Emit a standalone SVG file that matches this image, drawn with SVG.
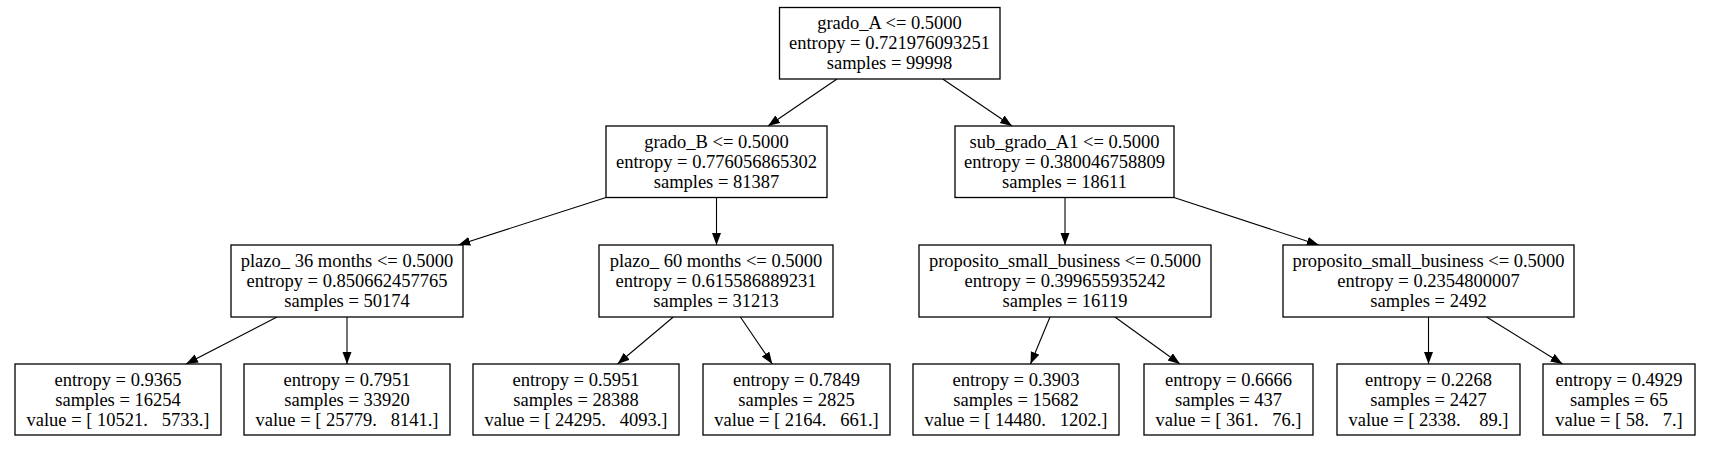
<svg xmlns="http://www.w3.org/2000/svg" width="1734" height="449" viewBox="0 0 1734 449">
<style>
.box{fill:#fff;stroke:#000;stroke-width:1.3}
text{font-family:"Liberation Serif","Times New Roman",serif;font-size:18.5px;fill:#000;text-anchor:middle;white-space:pre}
.edge{stroke:#000;stroke-width:1.1;fill:none;marker-end:url(#ah)}
</style>
<defs>
<marker id="ah" markerUnits="userSpaceOnUse" markerWidth="14" markerHeight="11" refX="12" refY="4.5" orient="auto">
<path d="M0,0 L12,4.5 L0,9 z" fill="#000"/>
</marker>
</defs>
<rect width="1734" height="449" fill="#fff"/>
<g id="edges">
<line class="edge" x1="837" y1="79" x2="768" y2="126"/>
<line class="edge" x1="942.7" y1="79" x2="1012" y2="126"/>
<line class="edge" x1="606" y1="197.5" x2="458.3" y2="245"/>
<line class="edge" x1="716.5" y1="197.5" x2="716.5" y2="245"/>
<line class="edge" x1="1065" y1="197.5" x2="1065" y2="245"/>
<line class="edge" x1="1174" y1="197.5" x2="1318.8" y2="245"/>
<line class="edge" x1="277" y1="317" x2="186" y2="364"/>
<line class="edge" x1="347" y1="317" x2="347" y2="364"/>
<line class="edge" x1="673.3" y1="317" x2="617.5" y2="364"/>
<line class="edge" x1="740.4" y1="317" x2="772.3" y2="364"/>
<line class="edge" x1="1050" y1="317" x2="1030.5" y2="364"/>
<line class="edge" x1="1114.9" y1="317" x2="1180" y2="364"/>
<line class="edge" x1="1428.5" y1="317" x2="1428.5" y2="364"/>
<line class="edge" x1="1486.6" y1="317" x2="1562.5" y2="364"/>
</g>
<g id="n0">
<rect class="box" x="779.5" y="7.5" width="220.5" height="71.5"/>
<text x="889.5" y="29">grado_A &lt;= 0.5000</text>
<text x="889.5" y="49">entropy = 0.721976093251</text>
<text x="889.5" y="69">samples = 99998</text>
</g>
<g id="n1">
<rect class="box" x="606" y="126" width="221" height="71.5"/>
<text x="716.5" y="147.5">grado_B &lt;= 0.5000</text>
<text x="716.5" y="167.5">entropy = 0.776056865302</text>
<text x="716.5" y="187.5">samples = 81387</text>
</g>
<g id="n2">
<rect class="box" x="955" y="126" width="219" height="71.5"/>
<text x="1064.5" y="147.5">sub_grado_A1 &lt;= 0.5000</text>
<text x="1064.5" y="167.5">entropy = 0.380046758809</text>
<text x="1064.5" y="187.5">samples = 18611</text>
</g>
<g id="n3">
<rect class="box" x="231" y="245" width="232" height="72"/>
<text x="347" y="267">plazo_ 36 months &lt;= 0.5000</text>
<text x="347" y="287">entropy = 0.850662457765</text>
<text x="347" y="307">samples = 50174</text>
</g>
<g id="n4">
<rect class="box" x="599" y="245" width="234" height="72"/>
<text x="716" y="267">plazo_ 60 months &lt;= 0.5000</text>
<text x="716" y="287">entropy = 0.615586889231</text>
<text x="716" y="307">samples = 31213</text>
</g>
<g id="n5">
<rect class="box" x="919" y="245" width="292" height="72"/>
<text x="1065" y="267">proposito_small_business &lt;= 0.5000</text>
<text x="1065" y="287">entropy = 0.399655935242</text>
<text x="1065" y="307">samples = 16119</text>
</g>
<g id="n6">
<rect class="box" x="1283" y="245" width="291" height="72"/>
<text x="1428.5" y="267">proposito_small_business &lt;= 0.5000</text>
<text x="1428.5" y="287">entropy = 0.2354800007</text>
<text x="1428.5" y="307">samples = 2492</text>
</g>
<g id="n7">
<rect class="box" x="15" y="364" width="206" height="71"/>
<text x="118" y="386">entropy = 0.9365</text>
<text x="118" y="406">samples = 16254</text>
<text x="118" y="426">value = [ 10521.   5733.]</text>
</g>
<g id="n8">
<rect class="box" x="244" y="364" width="206" height="71"/>
<text x="347" y="386">entropy = 0.7951</text>
<text x="347" y="406">samples = 33920</text>
<text x="347" y="426">value = [ 25779.   8141.]</text>
</g>
<g id="n9">
<rect class="box" x="473" y="364" width="206" height="71"/>
<text x="576" y="386">entropy = 0.5951</text>
<text x="576" y="406">samples = 28388</text>
<text x="576" y="426">value = [ 24295.   4093.]</text>
</g>
<g id="n10">
<rect class="box" x="703" y="364" width="187" height="71"/>
<text x="796.5" y="386">entropy = 0.7849</text>
<text x="796.5" y="406">samples = 2825</text>
<text x="796.5" y="426">value = [ 2164.   661.]</text>
</g>
<g id="n11">
<rect class="box" x="913" y="364" width="206" height="71"/>
<text x="1016" y="386">entropy = 0.3903</text>
<text x="1016" y="406">samples = 15682</text>
<text x="1016" y="426">value = [ 14480.   1202.]</text>
</g>
<g id="n12">
<rect class="box" x="1144" y="364" width="169" height="71"/>
<text x="1228.5" y="386">entropy = 0.6666</text>
<text x="1228.5" y="406">samples = 437</text>
<text x="1228.5" y="426">value = [ 361.   76.]</text>
</g>
<g id="n13">
<rect class="box" x="1337" y="364" width="183" height="71"/>
<text x="1428.5" y="386">entropy = 0.2268</text>
<text x="1428.5" y="406">samples = 2427</text>
<text x="1428.5" y="426">value = [ 2338.    89.]</text>
</g>
<g id="n14">
<rect class="box" x="1543" y="364" width="152" height="71"/>
<text x="1619" y="386">entropy = 0.4929</text>
<text x="1619" y="406">samples = 65</text>
<text x="1619" y="426">value = [ 58.   7.]</text>
</g>
</svg>
